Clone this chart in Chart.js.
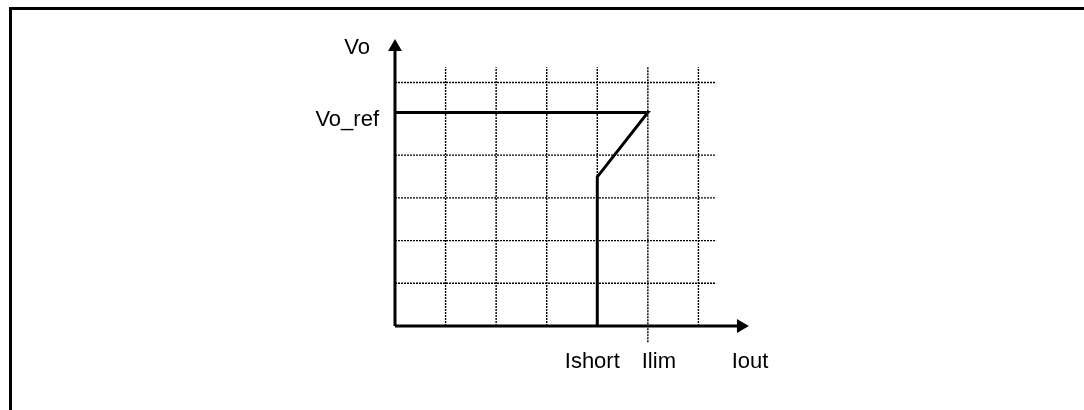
<!DOCTYPE html>
<html lang="en">
<head>
    <meta charset="UTF-8">
    <script src="https://cdn.jsdelivr.net/npm/chart.js"></script>
    <title>Vo vs Iout</title>
    <style>
        body { margin: 0; background: #fff; }
        .container { width: 1084px; height: 410px; }
    </style>
</head>
<body>
    <div class="container">
        <canvas id="mychart"></canvas>
    </div>

    <script>
        // grid positions (in grid units)
        const gridCols = [1, 2, 3, 4, 5, 6];
        const gridRows = [1, 2, 3, 4, 5.7];
        const gridTop = 6.06;
        const gridRight = 6.35;
        const ilimDrop = -0.38;

        // the Vo / Iout curve
        const curveX = [0, 5, 4, 4];
        const curveY = [5, 5, 3.49, 0];

        // axis ends
        const xMax = 7;
        const yMax = 6.72;

        // labels
        const xLabels = ["Ishort", "Ilim", "Iout"];
        const xLabelAt = [4, 5, 7];
        const yLabels = ["Vo", "Vo_ref"];
        const yLabelAt = [6.5, 5];

        const dotted = {
            borderColor: "#000",
            borderWidth: 1.4,
            borderDash: [2, 1],
            pointRadius: 0,
            showLine: true,
            clip: false
        };

        let datasets = [];
        gridCols.forEach(function (c) {
            let bottom = c === 5 ? ilimDrop : 0;
            datasets.push(Object.assign({ data: [{x: c, y: bottom}, {x: c, y: gridTop}] }, dotted));
        });
        gridRows.forEach(function (r) {
            datasets.push(Object.assign({ data: [{x: 0, y: r}, {x: gridRight, y: r}] }, dotted));
        });

        // curve
        datasets.push({
            data: curveX.map((x, i) => ({x: x, y: curveY[i]})),
            borderColor: "#000",
            borderWidth: 3,
            pointRadius: 0,
            showLine: true,
            clip: false
        });

        // axes with arrow heads
        datasets.push({
            data: [{x: 0, y: 0}, {x: 0, y: yMax - 0.19}],
            borderColor: "#000",
            borderWidth: 3,
            showLine: true,
            pointStyle: "triangle",
            pointRadius: [0, 8],
            pointRotation: 0,
            pointBackgroundColor: "#000",
            pointBorderWidth: 0,
            clip: false
        });
        datasets.push({
            data: [{x: 0, y: 0}, {x: xMax - 0.16, y: 0}],
            borderColor: "#000",
            borderWidth: 3,
            showLine: true,
            pointStyle: "triangle",
            pointRadius: [0, 8],
            pointRotation: 90,
            pointBackgroundColor: "#000",
            pointBorderWidth: 0,
            clip: false
        });

        const framePlugin = {
            id: "frame",
            beforeDraw(chart) {
                const ctx = chart.ctx;
                ctx.save();
                ctx.fillStyle = "#fff";
                ctx.fillRect(0, 0, chart.width, chart.height);
                ctx.strokeStyle = "#000";
                ctx.lineWidth = 3;
                ctx.beginPath();
                ctx.moveTo(10.5, chart.height + 5);
                ctx.lineTo(10.5, 8.5);
                ctx.lineTo(chart.width + 5, 8.5);
                ctx.stroke();
                ctx.restore();
            }
        };

        const labelPlugin = {
            id: "labels",
            afterDatasetsDraw(chart) {
                const ctx = chart.ctx;
                const sx = chart.scales.x, sy = chart.scales.y;
                const xOff = [-5, 11, 1];
                const yOff = [-25, -16];
                const yShift = [0, 7];
                ctx.save();
                ctx.fillStyle = "#000";
                ctx.font = '22px "Liberation Sans", Arial, sans-serif';
                ctx.textAlign = "center";
                ctx.textBaseline = "alphabetic";
                xLabels.forEach(function (t, i) {
                    ctx.fillText(t, sx.getPixelForValue(xLabelAt[i]) + xOff[i], sy.getPixelForValue(0) + 42);
                });
                ctx.textAlign = "right";
                ctx.textBaseline = "middle";
                yLabels.forEach(function (t, i) {
                    ctx.fillText(t, sx.getPixelForValue(0) + yOff[i], sy.getPixelForValue(yLabelAt[i]) + yShift[i]);
                });
                ctx.restore();
            }
        };

        let mychart = document.getElementById("mychart").getContext("2d");
        let charts = new Chart(mychart, {
            type: "scatter",
            data: { datasets: datasets },
            options: {
                responsive: true,
                maintainAspectRatio: false,
                animation: false,
                layout: { padding: { left: 395, right: 335, top: 39, bottom: 84 } },
                plugins: { legend: { display: false }, tooltip: { enabled: false } },
                scales: {
                    x: { type: "linear", min: 0, max: xMax, display: false },
                    y: { type: "linear", min: 0, max: yMax, display: false }
                }
            },
            plugins: [framePlugin, labelPlugin]
        });
    </script>
</body>
</html>
